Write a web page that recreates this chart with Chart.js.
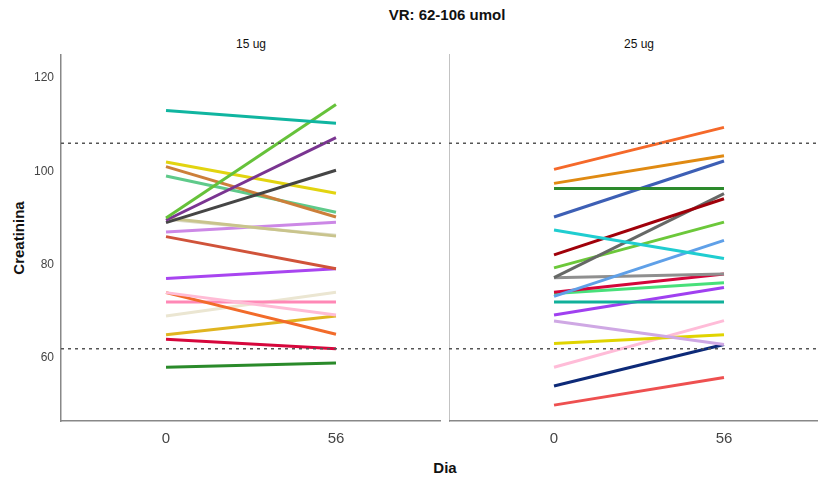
<!DOCTYPE html>
<html>
<head>
<meta charset="utf-8">
<script src="https://cdn.jsdelivr.net/npm/chart.js@4.4.0/dist/chart.umd.min.js"></script>
<style>
  html, body { margin: 0; padding: 0; background: #fff; overflow: hidden; }
  body { width: 818px; height: 480px; position: relative; font-family: Arial, "Liberation Sans", sans-serif; }
  .box { position: absolute; top: 0; height: 480px; }
  .txt { position: absolute; color: #111; white-space: nowrap; transform: translate(-50%, -50%); }
</style>
</head>
<body>
<div class="txt" style="left:447px;top:14px;font-size:15px;font-weight:bold;">VR: 62-106 umol</div>
<div class="txt" style="left:251px;top:44px;font-size:12px;">15 ug</div>
<div class="txt" style="left:639px;top:44px;font-size:12px;">25 ug</div>
<div class="txt" style="left:18px;top:238px;font-size:15px;font-weight:bold;transform:translate(-50%,-50%) rotate(-90deg);">Creatinina</div>
<div class="txt" style="left:445px;top:467px;font-size:15px;font-weight:bold;">Dia</div>
<div class="box" style="left:0;width:441px;"><canvas id="chart15"></canvas></div>
<div class="box" style="left:449px;width:380px;"><canvas id="chart25"></canvas></div>
<script>
// dias de medicion
const days = [0, 56];
const xTicks = [0, 56];
const yTicks = [60, 80, 100, 120];
const refLimits = [62, 106];

// 15 ug: valor dia 0 y dia 56
const start15 = [113, 90, 89.5, 89, 102, 101, 99, 90, 89.7, 87, 86, 77, 74, 74, 72, 69, 65, 64, 58];
const end15   = [110.3, 114.3, 107.2, 100.2, 95.3, 90.2, 91.2, 86.1, 86.3, 89.1, 79.1, 79.1, 69.2, 65.1, 72, 74.1, 69, 62, 58.9];
const colors15 = ['#10b5a0', '#66c23a', '#7a3591', '#454545', '#e2d410', '#cc7f3a', '#5fca8a', '#c9c48c', '#dcdac6',
  '#cc88e6', '#d0533a', '#a845f0', '#ffbcd6', '#f26b2a', '#ff88b6', '#ebe6d2', '#e0b520', '#d6073c', '#2a8a2a'];

// 25 ug
const start25 = [100.4, 97.4, 96.3, 90.2, 87.4, 82.1, 77.2, 79.3, 73.2, 77.2, 74.1, 73.8, 72, 69.2, 67.9, 63.1, 58, 54, 49.9];
const end25   = [109.4, 103.3, 96.3, 102.2, 81.3, 94.1, 95.2, 89.1, 85.2, 78, 78, 76.1, 72, 75.1, 62.9, 65, 68, 62.9, 55.8];
const colors25 = ['#f5692a', '#e08a12', '#2c8a2c', '#3d5fb5', '#20cdd0', '#a0000a', '#666866', '#6cc83a', '#5fa0e8',
  '#8f8f8f', '#d4063a', '#48e07a', '#10b09a', '#a040f0', '#cfa8e4', '#e0d400', '#ffbcd8', '#0d2a78', '#ee5050'];

const X_MIN = -34.6, X_MAX = 90.6;
const Y_MIN = 46.5, Y_MAX = 124.9;

function buildDatasets(starts, ends, colors) {
  let ds = [];
  for (const v of refLimits) {
    ds.push({
      data: [{x: X_MIN, y: v}, {x: X_MAX, y: v}],
      borderColor: '#555',
      borderWidth: 1.5,
      borderDash: [3, 4],
      pointRadius: 0
    });
  }
  for (let i = 0; i < starts.length; i++) {
    ds.push({
      data: [{x: days[0], y: starts[i]}, {x: days[1], y: ends[i]}],
      borderColor: colors[i],
      borderWidth: 3,
      pointRadius: 0
    });
  }
  return ds;
}

function drawPanel(chartId, starts, ends, colors, showY) {
  var ctx = document.getElementById(chartId);
  return new Chart(ctx, {
    type: 'line',
    data: { datasets: buildDatasets(starts, ends, colors) },
    options: {
      responsive: true,
      maintainAspectRatio: false,
      animation: false,
      events: [],
      layout: { padding: { top: 55, left: 0, right: 0, bottom: 0 } },
      plugins: { legend: { display: false }, tooltip: { enabled: false }, title: { display: false } },
      scales: {
        x: {
          type: 'linear',
          min: X_MIN,
          max: X_MAX,
          afterBuildTicks: (s) => { s.ticks = xTicks.map(v => ({value: v})); },
          afterFit: (s) => { s.height = 59; },
          grid: { display: false, drawTicks: false },
          border: { display: true, color: '#888', width: 1.5 },
          ticks: { color: '#444', padding: 9, font: { size: 15, family: 'Arial' }, maxRotation: 0 }
        },
        y: {
          type: 'linear',
          min: Y_MIN,
          max: Y_MAX,
          afterBuildTicks: (s) => { s.ticks = yTicks.map(v => ({value: v})); },
          afterFit: (s) => { s.width = showY ? 61 : 0; },
          grid: { display: false, drawTicks: false },
          border: { display: true, color: '#888', width: 1.5 },
          ticks: { display: showY, color: '#444', padding: 7, font: { size: 12, family: 'Arial' } }
        }
      }
    }
  });
}

drawPanel('chart15', start15, end15, colors15, true);
drawPanel('chart25', start25, end25, colors25, false);
</script>
</body>
</html>
